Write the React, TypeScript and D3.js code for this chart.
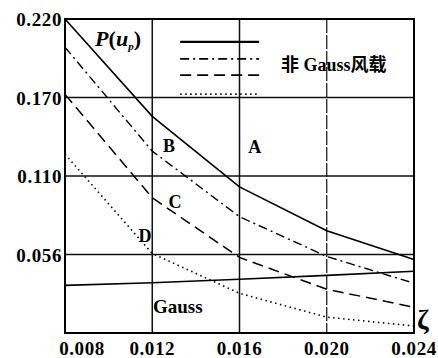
import React from "react";
import * as d3 from "d3";

// damping ratio ticks (x) and probability ticks (y, equally spaced on the chart)
const zetaTicks = [0.008, 0.012, 0.016, 0.020, 0.024];
const yTicks = [0.056, 0.110, 0.170, 0.220];
const yLevels = [0, 0.056, 0.110, 0.170, 0.220];

// curves
const curveA = [0.220, 0.1556, 0.1025, 0.0724, 0.0525];
const curveB = [0.202, 0.129, 0.082, 0.0546, 0.0355];
const curveC = [0.172, 0.095, 0.0539, 0.0312, 0.0184];
const curveD = [0.1267, 0.0567, 0.0283, 0.0113, 0.005];
const curveGauss = [0.034, 0.0359, 0.0383, 0.0411, 0.044];

const curveLabels = [
  { text: "A", x: 0.0167, y: 0.132 },
  { text: "B", x: 0.01277, y: 0.1328 },
  { text: "C", x: 0.01304, y: 0.0922 },
  { text: "D", x: 0.01167, y: 0.069 },
];

const W = 438;
const H = 358;
const margin = { top: 19, right: 24, bottom: 25, left: 65 };
const serif = "Liberation Serif, Times New Roman, serif";
const cjk = "Noto Sans CJK SC, sans-serif";

export default function App() {
  const x = d3
    .scaleLinear()
    .domain([0.008, 0.024])
    .range([margin.left, W - margin.right]);

  const innerH = H - margin.top - margin.bottom;
  const step = innerH / (yLevels.length - 1);
  // piecewise scale: the labelled levels are evenly spaced
  const y = d3
    .scaleLinear()
    .domain(yLevels)
    .range(yLevels.map((_, i) => H - margin.bottom - i * step));

  const line = d3
    .line<number>()
    .x((_, i) => x(zetaTicks[i]))
    .y((d) => y(d));

  const series = [
    { values: curveA, dash: "none", width: 1.6 },
    { values: curveB, dash: "9,4,2,4", width: 1.4 },
    { values: curveC, dash: "11,6", width: 1.5 },
    { values: curveD, dash: "1.5,3.5", width: 1.6 },
    { values: curveGauss, dash: "none", width: 1.6 },
  ];

  const legendX0 = x(0.01328);
  const legendX1 = x(0.0169);
  const legendY = [0.2054, 0.1946, 0.1842, 0.1721];

  const left = margin.left;
  const right = W - margin.right;
  const top = margin.top;
  const bottom = H - margin.bottom;
  const txt = { fontFamily: serif, fontWeight: "bold" as const };

  return (
    <svg
      width={W}
      height={H}
      style={{ position: "absolute", left: 0, top: 0, background: "#fff" }}
    >
      {/* grid */}
      {yTicks.slice(0, 3).map((t) => (
        <line key={t} x1={left} x2={right} y1={y(t)} y2={y(t)} stroke="#111" strokeWidth={1.6} />
      ))}
      {zetaTicks.slice(1, 4).map((t) => (
        <line
          key={t}
          x1={x(t)}
          x2={x(t)}
          y1={top}
          y2={bottom}
          stroke="#111"
          strokeWidth={t === 0.02 ? 1.2 : 1.5}
          strokeDasharray={t === 0.02 ? "14,2" : undefined}
        />
      ))}

      {/* curves */}
      {series.map((s, i) => (
        <path
          key={i}
          d={line(s.values) || ""}
          fill="none"
          stroke="#000"
          strokeWidth={s.width}
          strokeDasharray={s.dash}
        />
      ))}

      {/* frame */}
      <rect x={left} y={top} width={right - left} height={bottom - top} fill="none" stroke="#000" strokeWidth={2} />

      {/* y tick labels */}
      {yTicks.map((t) => (
        <text
          key={t}
          x={left - 3}
          y={y(t) + 7}
          textAnchor="end"
          fontSize={19}
          letterSpacing={0.6}
          style={txt}
        >
          {d3.format(".3f")(t)}
        </text>
      ))}

      {/* x tick labels */}
      {zetaTicks.map((t, i) => (
        <text
          key={t}
          x={x(t) + (i === 0 ? 17 : 0)}
          y={H - 3}
          textAnchor="middle"
          fontSize={19}
          letterSpacing={0.6}
          style={txt}
        >
          {d3.format(".3f")(t)}
        </text>
      ))}

      {/* axis titles */}
      <text x={x(0.00938)} y={y(0.2031)} fontSize={22} style={txt}>
        <tspan fontStyle="italic">P</tspan>
        <tspan>(</tspan>
        <tspan fontStyle="italic">u</tspan>
        <tspan fontStyle="italic" fontSize={11} dy={4}>p</tspan>
        <tspan dy={-4}>)</tspan>
      </text>
      <text x={right + 3} y={bottom - 4} fontSize={28} style={txt}>
        ζ
      </text>

      {/* legend */}
      {series.slice(0, 4).map((s, i) => (
        <line
          key={i}
          x1={legendX0}
          x2={legendX1}
          y1={y(legendY[i])}
          y2={y(legendY[i])}
          stroke="#000"
          strokeWidth={i === 0 ? 2.2 : 1.8}
          strokeDasharray={s.dash}
        />
      ))}
      <text x={x(0.0179)} y={y(0.1915) + 7} fontSize={18} style={txt}>
        <tspan style={{ fontFamily: cjk }}>非</tspan>
        <tspan> Gauss</tspan>
        <tspan style={{ fontFamily: cjk }}>风载</tspan>
      </text>

      {/* curve labels */}
      {curveLabels.map((l) => (
        <text
          key={l.text}
          x={x(l.x)}
          y={y(l.y) + 6}
          textAnchor="middle"
          fontSize={18}
          style={txt}
        >
          {l.text}
        </text>
      ))}
      <text x={x(0.01203)} y={y(0.0142)} fontSize={19} style={txt}>
        Gauss
      </text>
    </svg>
  );
}
